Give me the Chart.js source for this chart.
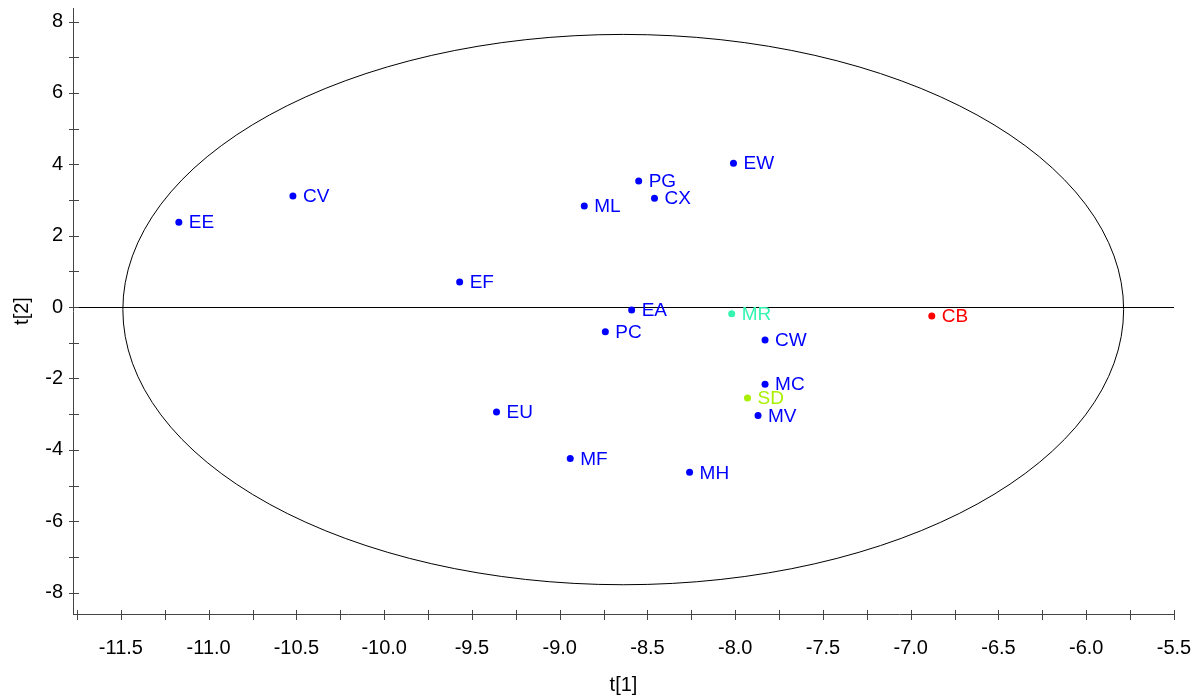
<!DOCTYPE html>
<html>
<head>
<meta charset="utf-8">
<script src="https://cdn.jsdelivr.net/npm/chart.js@4"></script>
<style>
  html, body { margin: 0; padding: 0; background: #fff; }
  #wrap { width: 1200px; height: 697px; }
</style>
</head>
<body>
<div id="wrap"><canvas id="scoreChart"></canvas></div>
<script>
var names = ["EE", "CV", "EF", "ML", "PG", "CX", "EW", "EA", "PC", "MR", "CW", "MC", "SD", "MV", "EU", "MF", "MH", "CB"];
var t1 = [-11.17, -10.52, -9.57, -8.86, -8.55, -8.46, -8.01, -8.59, -8.74, -8.02, -7.83, -7.83, -7.93, -7.87, -9.36, -8.94, -8.26, -6.88];
var t2 = [2.38, 3.11, 0.70, 2.83, 3.53, 3.05, 4.03, -0.08, -0.69, -0.19, -0.92, -2.16, -2.55, -3.04, -2.94, -4.24, -4.63, -0.25];
var pointColors = ["#0000ff", "#0000ff", "#0000ff", "#0000ff", "#0000ff", "#0000ff", "#0000ff", "#0000ff", "#0000ff",
  "#33f5b0", "#0000ff", "#0000ff", "#a8f000", "#0000ff", "#0000ff", "#0000ff", "#0000ff", "#ff0000"];

var xTicks = [-11.75, -11.5, -11.25, -11.0, -10.75, -10.5, -10.25, -10.0, -9.75, -9.5, -9.25, -9.0, -8.75, -8.5,
  -8.25, -8.0, -7.75, -7.5, -7.25, -7.0, -6.75, -6.5, -6.25, -6.0, -5.75, -5.5];
var yTicks = [-8, -7, -6, -5, -4, -3, -2, -1, 0, 1, 2, 3, 4, 5, 6, 7, 8];

// Hotelling ellipse: centre and radii in data units
var ellipseCenter = [-8.638, -0.07];
var ellipseRadius = [2.851, 7.71];

var FONT = "Arial, 'Liberation Sans', sans-serif";

var ellipsePlugin = {
  id: "ellipse",
  beforeDatasetsDraw: function (chart) {
    var xs = chart.scales.x, ys = chart.scales.y, ctx = chart.ctx;
    var cx = xs.getPixelForValue(ellipseCenter[0]);
    var cy = ys.getPixelForValue(ellipseCenter[1]);
    var rx = Math.abs(xs.getPixelForValue(ellipseCenter[0] + ellipseRadius[0]) - cx);
    var ry = Math.abs(ys.getPixelForValue(ellipseCenter[1] + ellipseRadius[1]) - cy);
    ctx.save();
    ctx.strokeStyle = "#000";
    ctx.lineWidth = 1;
    ctx.beginPath();
    ctx.ellipse(cx, cy, rx, ry, 0, 0, Math.PI * 2);
    ctx.stroke();
    ctx.restore();
  }
};

var ticksPlugin = {
  id: "crossTicks",
  afterDraw: function (chart) {
    var xs = chart.scales.x, ys = chart.scales.y, ctx = chart.ctx;
    var a = chart.chartArea;
    ctx.save();
    ctx.strokeStyle = "#444";
    ctx.lineWidth = 1;
    ctx.beginPath();
    xTicks.forEach(function (v) {
      var px = Math.round(xs.getPixelForValue(v)) + 0.5;
      ctx.moveTo(px, a.bottom - 4);
      ctx.lineTo(px, a.bottom + 6);
    });
    yTicks.forEach(function (v) {
      var py = Math.round(ys.getPixelForValue(v)) + 0.5;
      ctx.moveTo(a.left - 4, py);
      ctx.lineTo(a.left + 6, py);
    });
    ctx.stroke();
    ctx.restore();
  }
};

var labelPlugin = {
  id: "pointLabels",
  afterDatasetsDraw: function (chart) {
    var meta = chart.getDatasetMeta(0), ctx = chart.ctx;
    ctx.save();
    ctx.font = "19px " + FONT;
    ctx.textAlign = "left";
    ctx.textBaseline = "middle";
    meta.data.forEach(function (pt, i) {
      ctx.fillStyle = pointColors[i];
      ctx.fillText(names[i], pt.x + 10, pt.y + 1);
    });
    ctx.restore();
  }
};

document.addEventListener("DOMContentLoaded", function () {
  var canvas = document.getElementById("scoreChart");
  new Chart(canvas.getContext("2d"), {
    type: "scatter",
    data: {
      datasets: [
        {
          data: t1.map(function (x, i) {
            return { x: x, y: t2[i] };
          }),
          pointBackgroundColor: pointColors,
          pointBorderColor: pointColors,
          pointRadius: 3.5,
          pointBorderWidth: 0,
        },
      ],
    },
    options: {
      responsive: true,
      maintainAspectRatio: false,
      animation: false,
      layout: { padding: { left: 0, top: 8, right: 26, bottom: 0 } },
      plugins: {
        legend: { display: false },
        tooltip: { enabled: false },
      },
      scales: {
        x: {
          type: "linear",
          min: -11.773,
          max: -5.5,
          afterBuildTicks: function (scale) {
            scale.ticks = xTicks.map(function (v) {
              return { value: v };
            });
          },
          afterFit: function (scale) {
            scale.height = 83;
            scale.paddingLeft = 0;
            scale.paddingRight = 0;
          },
          ticks: {
            autoSkip: false,
            maxRotation: 0,
            padding: 22,
            color: "#000",
            font: { family: FONT, size: 20 },
            callback: function (v) {
              return Math.abs(v * 2 - Math.round(v * 2)) < 1e-6 ? v.toFixed(1) : "";
            },
          },
          grid: { display: true, drawOnChartArea: false, drawTicks: false },
          border: { display: true, color: "#444", width: 1 },
          title: {
            display: true,
            text: "t[1]",
            color: "#000",
            font: { family: FONT, size: 20 },
            padding: { top: 0, bottom: 0 },
          },
        },
        y: {
          type: "linear",
          min: -8.6,
          max: 8.38,
          afterBuildTicks: function (scale) {
            scale.ticks = yTicks.map(function (v) {
              return { value: v };
            });
          },
          afterFit: function (scale) {
            scale.width = 73;
            scale.paddingTop = 0;
            scale.paddingBottom = 0;
          },
          ticks: {
            autoSkip: false,
            padding: 10,
            color: "#000",
            font: { family: FONT, size: 20 },
            callback: function (v) {
              return v % 2 === 0 ? String(v) : "";
            },
          },
          grid: {
            drawTicks: false,
            color: function (c) {
              return c.tick && c.tick.value === 0 ? "#000" : "rgba(0,0,0,0)";
            },
            lineWidth: 1,
          },
          border: { display: true, color: "#444", width: 1 },
          title: {
            display: true,
            text: "t[2]",
            color: "#000",
            font: { family: FONT, size: 20 },
            padding: { top: 10, bottom: 0 },
          },
        },
      },
    },
    plugins: [ellipsePlugin, labelPlugin, ticksPlugin],
  });
});
</script>
</body>
</html>
